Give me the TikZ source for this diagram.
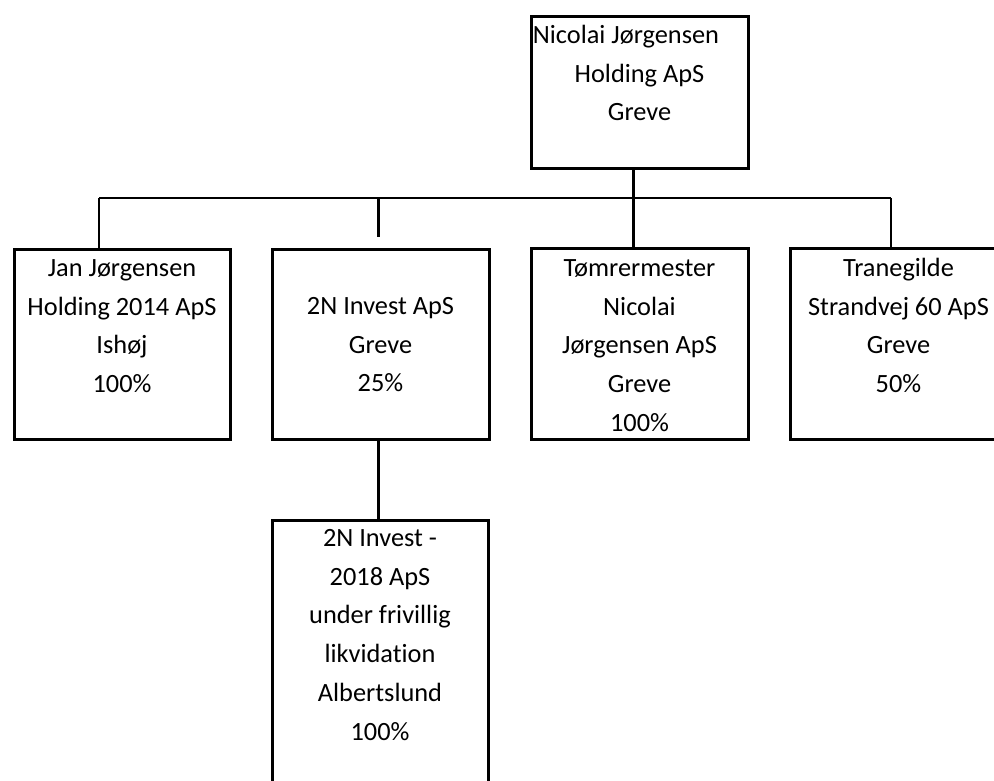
\documentclass[tikz,border=0pt]{standalone}
\usepackage{fontspec}
\setmainfont{Carlito}[Ligatures=NoCommon]
\begin{document}
\begin{tikzpicture}[x=1pt,y=-1pt,
			firm/.style={draw,line width=3pt,inner sep=0pt,anchor=north west,align=flush center,font=\fontsize{26.35}{38.7}\selectfont},
			wire/.style={line width=2pt},
			trunk/.style={line width=3pt}]
			\useasboundingbox (0,0) rectangle (994,780);
			\clip (0,0) rectangle (994,780);
			\node[firm,text width=217pt,text height=27.5pt,text depth=124.5pt] (top) at (529.5,14.5) {Nicolai Jørgensen\kern27pt\\Holding ApS\\Greve};
			\node[firm,text width=216pt,text height=27.5pt,text depth=162.5pt] (jan) at (12.5,247.5) {Jan Jørgensen\\Holding 2014 ApS\\Ishøj\\100\%};
			\node[firm,text width=217pt,text height=65.5pt,text depth=124.5pt] (invest) at (270.5,247.5) {2N Invest ApS\\Greve\\25\%};
			\node[firm,text width=217pt,text height=28.5pt,text depth=162.5pt] (tomrer) at (529.5,246.5) {Tømrermester\\Nicolai\\Jørgensen ApS\\Greve\\100\%};
			\node[firm,text width=217pt,text height=28.5pt,text depth=162.5pt] (trane) at (788.5,246.5) {Tranegilde\\Strandvej 60 ApS\\Greve\\50\%};
			\node[firm,text width=216pt,text height=26.5pt,text depth=300pt] (likv) at (270.5,518.5) {2N Invest -\\2018 ApS\\under frivillig\\likvidation\\Albertslund\\100\%};
			\coordinate (jan-j) at (99,198);
			\coordinate (invest-j) at (378,198);
			\coordinate (invest-end) at (378,237);
			\coordinate (top-j) at (633,198);
			\coordinate (trane-j) at (891,198);
			\draw[wire](jan-j)--(trane-j);
			\draw[wire](jan-j)--(jan-j |- jan.north);
			\draw[wire](trane-j)--(trane-j |- trane.north);
			\draw[trunk](invest-j)--(invest-end);
			\draw[trunk](top-j |- top.south)--(top-j |- tomrer.north);
			\draw[trunk](invest-j |- invest.south)--(invest-j |- likv.north);
		\end{tikzpicture}
\end{document}
